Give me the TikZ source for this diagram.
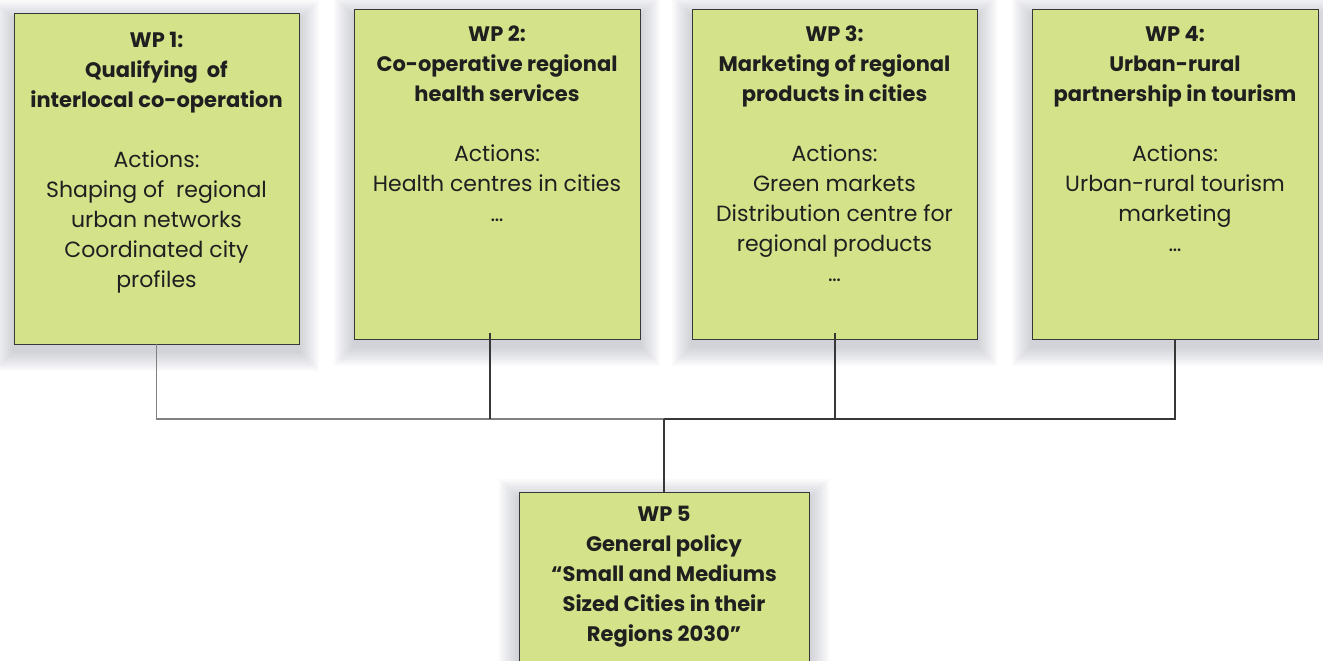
\documentclass[tikz,border=0pt]{standalone}
\usepackage{fontspec}
\setmainfont{Poppins}
\usetikzlibrary{backgrounds}
\definecolor{boxgreen}{RGB}{212,226,138}
\definecolor{linegray}{RGB}{55,55,55}
\definecolor{lightline}{RGB}{128,128,128}
\definecolor{shadowtint}{RGB}{80,90,110}
\begin{document}
\begin{tikzpicture}[x=1pt,y=-1pt,
  wpbox/.style={draw=linegray, line width=0.9pt, fill=boxgreen, rectangle, inner sep=0pt},
  wptext/.style={align=center, inner sep=0pt, anchor=north, font=\fontsize{22}{30}\selectfont, text=black!88},
  shadowlayer/.style={fill=shadowtint, opacity=0.028},
  conn/.style={draw=linegray, line width=1.2pt},
  connlight/.style={draw=lightline, line width=1.4pt}]
\useasboundingbox (0,0) rectangle (1323,661);
\node[wpbox, minimum width=285pt, minimum height=331pt] (wp1) at (156.5,178.5) {};
\node[wpbox, minimum width=286pt, minimum height=330pt] (wp2) at (497,174) {};
\node[wpbox, minimum width=285pt, minimum height=330pt] (wp3) at (834.5,174) {};
\node[wpbox, minimum width=286pt, minimum height=330pt] (wp4) at (1175,174) {};
\node[wpbox, minimum width=290pt, minimum height=208pt] (wp5) at (664,596) {};

\begin{scope}[on background layer]
\fill[white] (0,0) rectangle (1323,661);
\foreach \n in {wp1,wp2,wp3,wp4,wp5}{
  \foreach \e in {2,4,...,20}{
    \fill[shadowlayer] ([shift={(-\e,-\e+7)}]\n.north west) rectangle ([shift={(\e,\e+7)}]\n.south east);
  }
}
\end{scope}

\node[wptext] (t1) at (156.5,32) {{\bfseries\fontsize{21}{30}\selectfont WP 1:}\\ {\bfseries\fontsize{21}{30}\selectfont Qualifying\ \ of}\\ {\bfseries\fontsize{21}{30}\selectfont interlocal co-operation}\\[30pt] Actions:\\ Shaping of\ \ regional\\ urban networks\\ Coordinated city\\ profiles};
\node[wptext] (t2) at (497,26) {{\bfseries\fontsize{21}{30}\selectfont WP 2:}\\ {\bfseries\fontsize{21}{30}\selectfont Co-operative regional}\\ {\bfseries\fontsize{21}{30}\selectfont health services}\\[30pt] Actions:\\ Health centres in cities\\ \ldots};
\node[wptext] (t3) at (834.5,26) {{\bfseries\fontsize{21}{30}\selectfont WP 3:}\\ {\bfseries\fontsize{21}{30}\selectfont Marketing of regional}\\ {\bfseries\fontsize{21}{30}\selectfont products in cities}\\[30pt] Actions:\\ Green markets\\ Distribution centre for\\ regional products\\ \ldots};
\node[wptext] (t4) at (1175,26) {{\bfseries\fontsize{21}{30}\selectfont WP 4:}\\ {\bfseries\fontsize{21}{30}\selectfont Urban-rural}\\ {\bfseries\fontsize{21}{30}\selectfont partnership in tourism}\\[30pt] Actions:\\ Urban-rural tourism\\ marketing\\ \ldots};
\node[wptext, font=\fontsize{21}{30}\selectfont\bfseries] (t5) at (664,506) {WP 5\\ General policy\\ “Small and Mediums\\ Sized Cities in their\\ Regions 2030”};

\coordinate (bus) at (0,419);
\draw[connlight] (wp1.south) -- (wp1.south |- bus) -- (wp5.north |- bus);
\draw[conn] (wp5.north |- bus) -- (wp4.south |- bus) -- (wp4.south);
\draw[conn] ([xshift=-7pt,yshift=6pt]wp2.south) -- ([xshift=-7pt]wp2.south |- bus);
\draw[conn] ([xshift=0.5pt,yshift=6pt]wp3.south) -- ([xshift=0.5pt]wp3.south |- bus);
\draw[conn] (wp5.north) -- (wp5.north |- bus);
\end{tikzpicture}
\end{document}
